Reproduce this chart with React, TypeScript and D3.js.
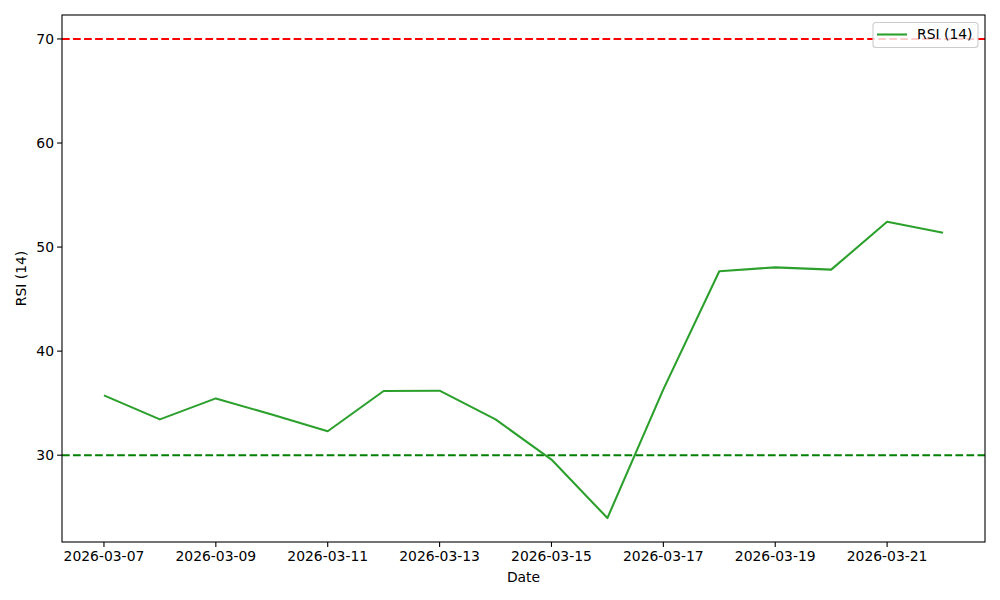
import React from "react";
import * as d3 from "d3";

const dates = [
  "2026-03-07", "2026-03-08", "2026-03-09", "2026-03-10", "2026-03-11", "2026-03-12",
  "2026-03-13", "2026-03-14", "2026-03-15", "2026-03-16", "2026-03-17", "2026-03-18",
  "2026-03-19", "2026-03-20", "2026-03-21", "2026-03-22",
];
const rsiValues = [
  35.75, 33.44, 35.46, 33.9, 32.3, 36.17, 36.2, 33.44, 29.58, 23.96, 36.33, 47.67,
  48.05, 47.83, 52.43, 51.37,
];
const yTicks = [30, 40, 50, 60, 70];
const xTickLabels = [
  "2026-03-07", "2026-03-09", "2026-03-11", "2026-03-13", "2026-03-15",
  "2026-03-17", "2026-03-19", "2026-03-21",
];
const overbought = 70;
const oversold = 30;
const seriesName = "RSI (14)";

const W = 1000;
const H = 600;
const M = { left: 62, right: 985, top: 15, bottom: 542 };
const FONT = "DejaVu Sans, sans-serif";

const parse = d3.utcParse("%Y-%m-%d");

export default function App() {
  const parsed = dates.map((d) => parse(d) as Date);
  const x0 = parsed[0].getTime();
  const x1 = parsed[parsed.length - 1].getTime();
  const pad = (x1 - x0) * 0.05;
  const x = d3.scaleUtc().domain([new Date(x0 - pad), new Date(x1 + pad)]).range([M.left, M.right]);
  const yMin = d3.min(rsiValues)!;
  const yMax = d3.max([...rsiValues, overbought])!;
  const yPad = (yMax - yMin) * 0.05;
  const y = d3.scaleLinear().domain([yMin - yPad, yMax + yPad]).range([M.bottom, M.top]);

  const line = d3
    .line<number>()
    .x((_, i) => x(parsed[i]))
    .y((v) => y(v));

  const fontSize = 13.9;
  const lw = 2.08;
  const dash = "7.7 3.33";

  return (
    <svg width={W} height={H} style={{ display: "block", position: "absolute", left: 0, top: 0, background: "white" }} fontFamily={FONT}>
      <rect x={0} y={0} width={W} height={H} fill="white" />
      <defs>
        <clipPath id="plotclip">
          <rect x={M.left} y={M.top} width={M.right - M.left} height={M.bottom - M.top} />
        </clipPath>
      </defs>
      <g clipPath="url(#plotclip)">
        <line x1={M.left} x2={M.right} y1={y(overbought)} y2={y(overbought)} stroke="#ff0000" strokeWidth={lw} strokeDasharray={dash} />
        <line x1={M.left} x2={M.right} y1={y(oversold)} y2={y(oversold)} stroke="#008000" strokeWidth={lw} strokeDasharray={dash} />
        <path d={line(rsiValues) || ""} fill="none" stroke="#2ca02c" strokeWidth={lw} strokeLinejoin="round" />
      </g>
      <rect x={M.left} y={M.top} width={M.right - M.left} height={M.bottom - M.top} fill="none" stroke="black" strokeWidth={1.1} />
      {yTicks.map((t) => (
        <g key={t}>
          <line x1={M.left - 4.9} x2={M.left} y1={y(t)} y2={y(t)} stroke="black" strokeWidth={1.1} />
          <text x={M.left - 8} y={y(t)} dy="0.35em" textAnchor="end" fontSize={fontSize} fill="black">{t}</text>
        </g>
      ))}
      {xTickLabels.map((t) => {
        const px = x(parse(t) as Date);
        return (
          <g key={t}>
            <line x1={px} x2={px} y1={M.bottom} y2={M.bottom + 4.9} stroke="black" strokeWidth={1.1} />
            <text x={px} y={M.bottom + 19} textAnchor="middle" fontSize={fontSize} fill="black">{t}</text>
          </g>
        );
      })}
      <text x={(M.left + M.right) / 2} y={582} textAnchor="middle" fontSize={fontSize} fill="black">Date</text>
      <text transform={`translate(26,${(M.top + M.bottom) / 2}) rotate(-90)`} textAnchor="middle" fontSize={fontSize} fill="black">{seriesName}</text>
      <g>
        <rect x={873} y={22.5} width={105} height={25} rx={3} fill="white" fillOpacity={0.8} stroke="#cccccc" strokeWidth={1.1} />
        <line x1={877} x2={907} y1={34.5} y2={34.5} stroke="#2ca02c" strokeWidth={lw} />
        <text x={917} y={34.5} dy="0.35em" fontSize={fontSize} fill="black">{seriesName}</text>
      </g>
    </svg>
  );
}
